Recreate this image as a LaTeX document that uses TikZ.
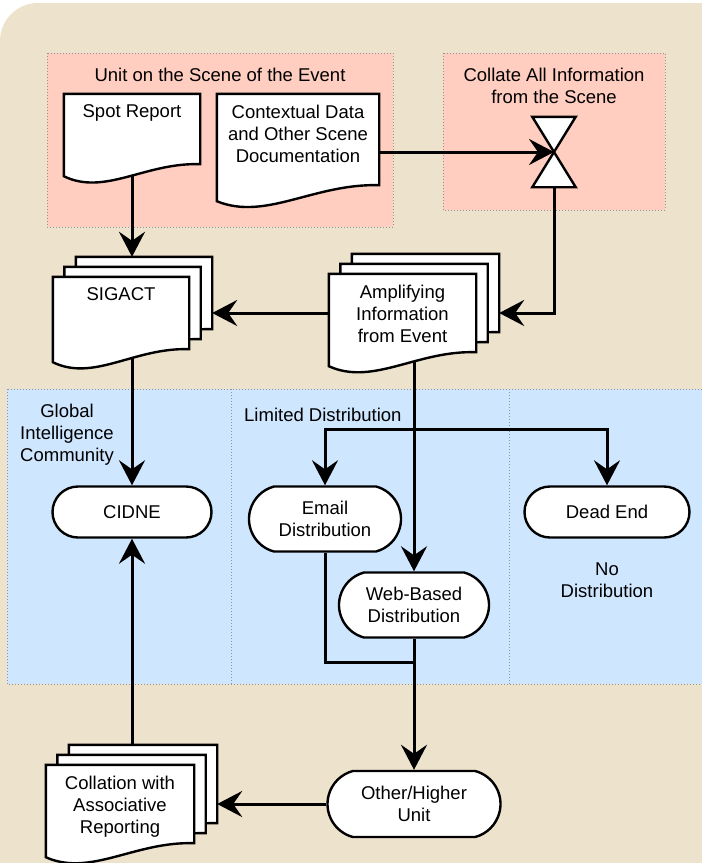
\documentclass[tikz,border=0pt]{standalone}
\usepackage{fontspec}
\setmainfont{Liberation Sans}
\usetikzlibrary{arrows.meta}
\usetikzlibrary{shapes.misc}
\usetikzlibrary{calc}

\pgfdeclarelayer{regions}
\pgfdeclarelayer{lines}
\pgfdeclarelayer{shapes}
\pgfsetlayers{regions,lines,shapes,main}

\definecolor{bgtan}{RGB}{237,226,204}
\definecolor{scenered}{RGB}{255,206,192}
\definecolor{distblue}{RGB}{207,230,255}

\tikzset{
	area/.style={draw=gray!85, dotted, line width=1pt},
	lbl/.style={align=center, inner sep=0pt, font=\fontsize{18.5}{22}\selectfont},
	doctext/.style={lbl, anchor=north, yshift=-11pt},
	docbox/.style 2 args={inner sep=0pt, minimum width=#1, minimum height=#2},
	term/.style={rounded rectangle, draw, line width=2.4pt, fill=white, lbl},
	shapeline/.style={line width=2.4pt, fill=white, line join=miter},
	link/.style={line width=3pt},
	flow/.style={link, -{Stealth[length=25pt,width=26pt,inset=9pt]}}
}

% document outline round a node: #1 node, #2 drop of the left corner
\newcommand\docoutline[2]{%
	\begin{pgfonlayer}{shapes}
	\draw[shapeline] (#1.south east) -- (#1.north east) -- (#1.north west) -- ($(#1.south west)+(0,#2)$)
		.. controls ($(#1.south west)!0.3!(#1.south east)+(0,#2+20)$) and ($(#1.south west)!0.6!(#1.south east)+(0,-2)$) .. (#1.south east) -- cycle;
	\end{pgfonlayer}}

\begin{document}
\begin{tikzpicture}[x=1pt,y=-1pt]
	\useasboundingbox (0,0) rectangle (702,863);
	\begin{pgfonlayer}{regions}
		\fill[bgtan, rounded corners=38pt] (0,3) rectangle (760,920);
		\filldraw[area, fill=scenered] (47,53) rectangle (393,227);
		\filldraw[area, fill=scenered] (443,53) rectangle (665,210);
		\filldraw[area, fill=distblue] (7,389) rectangle (706,684);
		\draw[area] (231,389) -- (231,684);
		\draw[area] (509,389) -- (509,684);
	\end{pgfonlayer}

	\node[lbl] (scene) at (220,75) {Unit on the Scene of the Event};
	\node[lbl] (collhead) at (554,86) {Collate All Information\\from the Scene};
	\node[lbl] (gic) at (67,435) {Global\\Intelligence\\Community};
	\node[lbl, anchor=west] (limited) at (244,415) {Limited Distribution};
	\node[lbl] (nodist) at (607,580) {No\\Distribution};

	% documents
	\node[docbox={136pt}{70pt}, label={[doctext]north:Spot Report}] (spot) at (132,129) {};
	\docoutline{spot}{12}
	\node[docbox={162pt}{91pt}, label={[doctext]north:{Contextual Data\\and Other Scene\\Documentation}}] (ctx) at (298,139.5) {};
	\docoutline{ctx}{16}

	\node[docbox={136pt}{72pt}, label={[doctext]north:SIGACT}] (sig) at (121,313) {};
	\node[docbox={136pt}{72pt}] (sig2) at ($(sig)+(11.5,-10)$) {};
	\node[docbox={136pt}{72pt}] (sig3) at ($(sig)+(23,-20)$) {};
	\docoutline{sig3}{13}
	\docoutline{sig2}{13}
	\docoutline{sig}{13}

	\node[docbox={147pt}{78pt}, label={[doctext]north:{Amplifying\\Information\\from Event}}] (amp) at (402.5,313) {};
	\node[docbox={147pt}{78pt}] (amp2) at ($(amp)+(11.5,-10)$) {};
	\node[docbox={147pt}{78pt}] (amp3) at ($(amp)+(23,-20)$) {};
	\docoutline{amp3}{14}
	\docoutline{amp2}{14}
	\docoutline{amp}{14}

	\node[docbox={148pt}{78pt}, label={[doctext]north:{Collation with\\Associative\\Reporting}}] (col) at (120,804) {};
	\node[docbox={148pt}{78pt}] (col2) at ($(col)+(11.5,-10)$) {};
	\node[docbox={148pt}{78pt}] (col3) at ($(col)+(23,-20)$) {};
	\docoutline{col3}{14}
	\docoutline{col2}{14}
	\docoutline{col}{14}

	% collate
	\node[inner sep=0pt, minimum width=43pt, minimum height=70pt] (coll) at (554,152) {};
	\begin{pgfonlayer}{shapes}
		\draw[shapeline] (coll.north west) -- (coll.north east) -- (coll.south west) -- (coll.south east) -- cycle;
	\end{pgfonlayer}

	% terminators
	\node[term, minimum width=159pt, minimum height=51pt] (cidne) at (132,512) {CIDNE};
	\node[term, minimum width=152pt, minimum height=65pt, rounded rectangle arc length=150] (email) at (325,519) {Email\\Distribution};
	\node[term, minimum width=165pt, minimum height=51pt] (deadend) at (607,512) {Dead End};
	\node[term, minimum width=150pt, minimum height=65pt, rounded rectangle arc length=150] (web) at (414,605) {Web-Based\\Distribution};
	\node[term, minimum width=173pt, minimum height=66pt, rounded rectangle arc length=150] (other) at (414,804) {Other/Higher\\Unit};

	\coordinate (split) at (414,429);
	\coordinate (merge) at (414,662);

	\begin{pgfonlayer}{lines}
		\draw[flow] (spot.south) -- (spot.south |- sig3.north);
		\draw[flow] (coll.south) |- (amp.east -| amp3.east);
		\draw[flow] (amp.west) -- (amp.west -| sig3.east);
		\draw[flow] (cidne.north |- sig.south) -- (cidne.north);
		\draw[flow] (web.north |- amp.south) -- (web.north);
		\draw[flow] (split) -| (email.north);
		\draw[flow] (split) -| (deadend.north);
		\draw[link] (email.south) |- (merge);
		\draw[flow] (web.south) -- (other.north);
		\draw[flow] (other.west) -- (other.west -| col3.east);
		\draw[flow] (cidne.south |- col3.north) -- (cidne.south);
	\end{pgfonlayer}
	\draw[flow] (ctx.east |- coll.center) -- (coll.center);
\end{tikzpicture}
\end{document}
